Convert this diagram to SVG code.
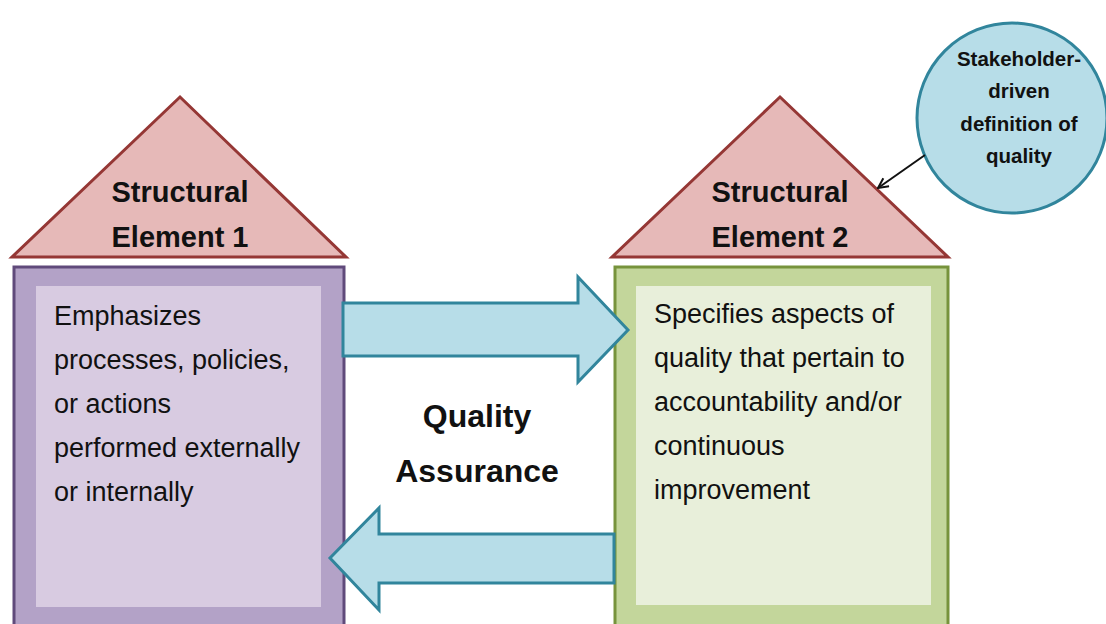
<svg xmlns="http://www.w3.org/2000/svg" width="1106" height="624" viewBox="0 0 1106 624">
<defs>
<style>
.roof{fill:#e6b9b8;stroke:#953735;stroke-width:3;stroke-linejoin:miter}
.title{font-family:"Liberation Sans",Arial,sans-serif;font-weight:bold;font-size:29px;fill:#111;text-anchor:middle}
.body{font-family:"Liberation Sans",Arial,sans-serif;font-size:27px;fill:#111}
.qa{font-family:"Liberation Sans",Arial,sans-serif;font-weight:bold;font-size:32px;fill:#111;text-anchor:middle}
.ctext{font-family:"Liberation Sans",Arial,sans-serif;font-weight:bold;font-size:20.5px;fill:#111;text-anchor:middle}
.bigarrow{fill:#b7dde8;stroke:#31859c;stroke-width:3;stroke-linejoin:miter}
</style>
<marker id="open" viewBox="0 0 12 12" refX="11" refY="6" markerWidth="12" markerHeight="12" markerUnits="userSpaceOnUse" orient="auto">
<path d="M1,1 L11,6 L1,11" fill="none" stroke="#111" stroke-width="2"/>
</marker>
</defs>
<rect width="1106" height="624" fill="#ffffff"/>

<g id="element1">
<polygon class="roof" points="180,97 12,257 346,257"/>
<text class="title" x="180" y="202">Structural</text>
<text class="title" x="180" y="247">Element 1</text>
<rect x="14" y="267" width="330" height="380" fill="#b3a2c7" stroke="#604a7b" stroke-width="3"/>
<rect x="36" y="286" width="285" height="321" fill="#d8cbe1"/>
<text class="body" x="54" y="325">Emphasizes</text>
<text class="body" x="54" y="369">processes, policies,</text>
<text class="body" x="54" y="413">or actions</text>
<text class="body" x="54" y="457">performed externally</text>
<text class="body" x="54" y="501">or internally</text>
</g>

<g id="element2">
<polygon class="roof" points="780,97 612,257 948,257"/>
<text class="title" x="780" y="202">Structural</text>
<text class="title" x="780" y="247">Element 2</text>
<rect x="615" y="267" width="333" height="380" fill="#c3d69b" stroke="#77933c" stroke-width="3"/>
<rect x="636" y="286" width="295" height="319" fill="#e8efda"/>
<text class="body" x="654" y="323">Specifies aspects of</text>
<text class="body" x="654" y="367">quality that pertain to</text>
<text class="body" x="654" y="411">accountability and/or</text>
<text class="body" x="654" y="455">continuous</text>
<text class="body" x="654" y="499">improvement</text>
</g>

<g id="stakeholder">
<circle cx="1012" cy="118" r="95" fill="#b7dde8" stroke="#31859c" stroke-width="3"/>
<text class="ctext" x="1019" y="66">Stakeholder-</text>
<text class="ctext" x="1019" y="98">driven</text>
<text class="ctext" x="1019" y="131">definition of</text>
<text class="ctext" x="1019" y="163">quality</text>
</g>

<g id="qa-label">
<text class="qa" x="477" y="427">Quality</text>
<text class="qa" x="477" y="482">Assurance</text>
</g>

<g id="connectors">
<polygon class="bigarrow" points="343,303 578,303 578,277 628,330 578,382 578,356 343,356"/>
<polygon class="bigarrow" points="614,534 379,534 379,508 330,558 379,610 379,583 614,583"/>
<line x1="925" y1="155" x2="878" y2="188" stroke="#111" stroke-width="2" marker-end="url(#open)"/>
</g>
</svg>
